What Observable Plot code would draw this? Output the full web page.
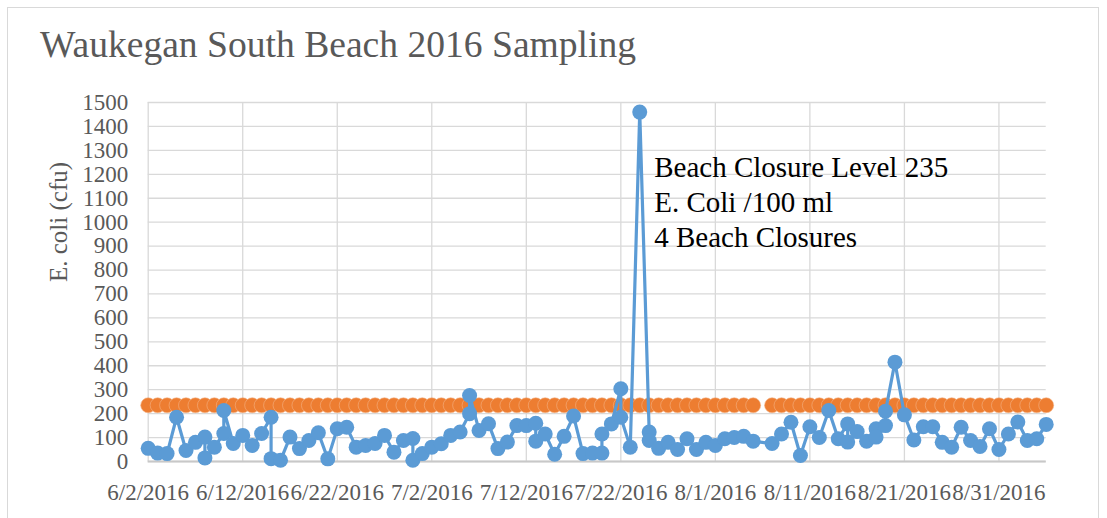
<!DOCTYPE html>
<html><head><meta charset="utf-8">
<script src="https://cdn.jsdelivr.net/npm/d3@7"></script>
<script src="https://cdn.jsdelivr.net/npm/@observablehq/plot@0.6"></script>
<style>
html,body{margin:0;padding:0;background:#fff;}
#wrap{position:relative;width:1107px;height:518px;overflow:hidden;background:#fff;}
#frame{position:absolute;left:7px;top:7px;width:1092px;height:560px;border:1px solid #d9d9d9;box-sizing:border-box;}
#title{position:absolute;left:40px;top:26px;font-family:'Liberation Serif','DejaVu Serif',serif;font-size:37.6px;line-height:37px;color:#595959;white-space:nowrap;}
#chart{position:absolute;left:0;top:0;}
</style></head>
<body>
<div id="wrap"><div id="frame"></div><div id="chart"></div><div id="title">Waukegan South Beach 2016 Sampling</div></div>
<script>
const YEAR = 2016;
const sampleDates = ["6/2","6/3","6/4","6/5","6/6","6/7","6/8","6/8","6/9","6/10","6/10","6/11","6/12","6/13","6/14","6/15","6/15","6/16","6/17","6/18","6/19","6/20","6/21","6/22","6/23","6/24","6/25","6/26","6/27","6/28","6/29","6/30","6/30","7/1","7/2","7/3","7/4","7/5","7/6","7/6","7/7","7/8","7/9","7/10","7/11","7/12","7/13","7/13","7/14","7/15","7/16","7/17","7/18","7/19","7/20","7/20","7/21","7/22","7/22","7/23","7/24","7/25","7/25","7/26","7/27","7/28","7/29","7/30","7/31","8/1","8/2","8/3","8/4","8/5","8/7","8/8","8/9","8/10","8/11","8/12","8/13","8/14","8/15","8/15","8/16","8/17","8/18","8/18","8/19","8/19","8/20","8/21","8/22","8/23","8/24","8/25","8/26","8/27","8/28","8/29","8/30","8/31","9/1","9/2","9/3","9/4","9/5"];
const ecoliValues = [55,35,33,185,46,80,102,15,60,117,213,75,109,67,117,185,12,5,102,54,88,120,11,137,143,60,67,75,109,39,88,96,5,33,60,74,109,123,200,276,130,158,54,81,150,150,160,85,115,30,105,190,33,35,35,115,157,304,185,60,1460,123,88,55,80,50,95,50,80,67,95,100,105,85,75,115,164,25,145,100,213,95,157,81,125,85,137,102,150,210,415,195,90,145,145,80,60,143,88,63,137,50,115,165,88,95,155];
const closureLevel = 235;
const closureFirst = "6/2", closureLast = "9/5";
const closureMissing = ["8/6"];
const xTickDates = ["6/2","6/12","6/22","7/2","7/12","7/22","8/1","8/11","8/21","8/31"];
const yTicks = [0,100,200,300,400,500,600,700,800,900,1000,1100,1200,1300,1400,1500];
const noteLines = ["Beach Closure Level 235","E. Coli /100 ml","4 Beach Closures"];
const noteDate = "7/25", noteValue = 1290;

const toDate = s => { const [m,d] = s.split("/").map(Number); return new Date(Date.UTC(YEAR, m-1, d)); };
const blue = sampleDates.map((s,i) => ({date: toDate(s), value: ecoliValues[i]}));
const missing = new Set(closureMissing.map(s => +toDate(s)));
const orange = d3.utcDay.range(toDate(closureFirst), d3.utcDay.offset(toDate(closureLast), 1))
  .map(d => ({date: d, value: missing.has(+d) ? NaN : closureLevel}));
const ticks = xTickDates.map(toDate);
const fmt = d3.utcFormat("%-m/%-d/%Y");
const serif = "'Liberation Serif','DejaVu Serif',serif";

const plot = Plot.plot({
  width: 1107, height: 518,
  marginLeft: 147.7, marginRight: 61.3, marginTop: 102, marginBottom: 57,
  style: {fontFamily: serif, fontSize: "23px", color: "#595959", background: "transparent", overflow: "visible"},
  x: {type: "utc", domain: [toDate(closureFirst), toDate(closureLast)], label: null},
  y: {domain: [0, 1500], label: null},
  marks: [
    Plot.gridY(yTicks, {stroke: "#d9d9d9", strokeOpacity: 1, strokeWidth: 1.3}),
    Plot.gridX(ticks, {stroke: "#d9d9d9", strokeOpacity: 1, strokeWidth: 1.3}),
    Plot.ruleY([0], {stroke: "#c8c8c8", strokeWidth: 1.8}),
    Plot.axisX(ticks, {tickFormat: fmt, tickSize: 0, tickPadding: 22, fill: "#595959", fontSize: 23, fontFamily: serif, label: null}),
    Plot.axisY(yTicks, {tickFormat: d => String(d), tickSize: 0, tickPadding: 20, fill: "#595959", fontSize: 23, fontFamily: serif, label: null}),
    Plot.lineY(orange, {x: "date", y: "value", stroke: "#ed7d31", strokeWidth: 3}),
    Plot.dot(orange.filter(d => !isNaN(d.value)), {x: "date", y: "value", r: 7.5, fill: "#ed7d31", stroke: "#f3b185", strokeWidth: 0.6}),
    Plot.line(blue, {x: "date", y: "value", stroke: "#5b9bd5", strokeWidth: 3.2, curve: "linear"}),
    Plot.dot(blue, {x: "date", y: "value", r: 7.5, fill: "#5b9bd5", stroke: "none"}),
    Plot.text([noteLines.join("\n")], {x: () => toDate(noteDate), y: () => noteValue, textAnchor: "start", lineAnchor: "top", dx: 5, fontSize: 29, lineHeight: 1.2, fill: "#000", fontFamily: serif}),
    Plot.text(["E. coli (cfu)"], {frameAnchor: "left", dx: -89, rotate: -90, fontSize: 25, fill: "#595959", fontFamily: serif})
  ]
});
document.getElementById("chart").appendChild(plot);
</script>
</body></html>
